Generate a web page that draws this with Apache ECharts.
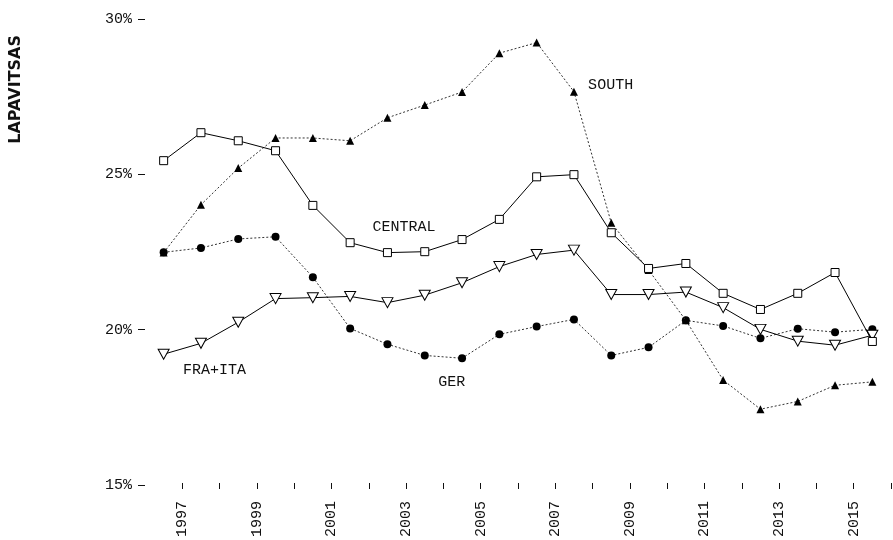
<!DOCTYPE html>
<html>
<head>
<meta charset="utf-8">
<script src="https://cdn.jsdelivr.net/npm/echarts@6/dist/echarts.min.js"></script>
<style>
  html, body { margin: 0; padding: 0; background: #fff; }
  #chart { width: 893px; height: 540px; }
</style>
</head>
<body>
<div id="chart"></div>
<script>
// Annual shares (%), 1996–2015; each value is plotted at mid-year.
const years = [1996, 1997, 1998, 1999, 2000, 2001, 2002, 2003, 2004, 2005,
               2006, 2007, 2008, 2009, 2010, 2011, 2012, 2013, 2014, 2015];

const central = [25.44, 26.34, 26.08, 25.76, 24.00, 22.80, 22.48, 22.51, 22.90, 23.55,
                 24.92, 24.99, 23.12, 21.97, 22.13, 21.17, 20.65, 21.17, 21.84, 19.62];
const south   = [22.48, 24.02, 25.20, 26.17, 26.17, 26.08, 26.82, 27.23, 27.65, 28.90,
                 29.24, 27.66, 23.44, 21.92, 20.30, 18.38, 17.44, 17.69, 18.21, 18.32];
const ger     = [22.49, 22.63, 22.92, 22.99, 21.69, 20.04, 19.53, 19.17, 19.08, 19.85,
                 20.10, 20.33, 19.17, 19.43, 20.30, 20.12, 19.72, 20.03, 19.92, 20.01];
const fraIta  = [19.21, 19.56, 20.24, 21.00, 21.03, 21.07, 20.87, 21.11, 21.51, 22.03,
                 22.42, 22.56, 21.13, 21.13, 21.21, 20.71, 20.01, 19.63, 19.50, 19.82];

// Axis ticks and labels
const xTickYears  = [1997, 1998, 1999, 2000, 2001, 2002, 2003, 2004, 2005, 2006,
                     2007, 2008, 2009, 2010, 2011, 2012, 2013, 2014, 2015, 2016];
const xLabelYears = [1997, 1999, 2001, 2003, 2005, 2007, 2009, 2011, 2013, 2015];
const yTicks = [15, 20, 25, 30];

// In-plot series labels: [name, year, value] of the label's left-middle anchor
const seriesLabels = [
  ['SOUTH',   2007.88, 27.86],
  ['CENTRAL', 2002.10, 23.30],
  ['GER',     2003.86, 18.32],
  ['FRA+ITA', 1997.02, 18.70]
];

const MONO = '"Liberation Mono", "DejaVu Sans Mono", monospace';

function pairs(vals) {
  return vals.map((v, i) => [years[i] + 0.5, v]);
}

function labelMark(name) {
  const l = seriesLabels.find(s => s[0] === name);
  return {
    silent: true,
    symbol: 'circle',
    symbolSize: 0,
    animation: false,
    label: {
      show: true,
      position: 'right',
      distance: 0,
      formatter: l[0],
      fontFamily: MONO,
      fontSize: 15,
      color: '#111'
    },
    data: [{ coord: [l[1], l[2]] }]
  };
}

const chart = echarts.init(document.getElementById('chart'), null, { renderer: 'canvas' });

chart.setOption({
  animation: false,
  backgroundColor: '#fff',
  grid: { left: 145, right: 2, top: 19, bottom: 54 },
  graphic: [{
    type: 'text',
    left: 8,
    top: 35,
    rotation: Math.PI / 2,
    style: {
      text: 'LAPAVITSAS',
      font: 'bold 16px "DejaVu Sans", sans-serif',
      fill: '#111'
    }
  }],
  xAxis: {
    type: 'value',
    min: 1996,
    max: 2016,
    offset: -2,
    splitLine: { show: false },
    axisLine: { show: false },
    axisTick: {
      show: true,
      length: 6,
      customValues: xTickYears,
      lineStyle: { color: '#111', width: 1 }
    },
    axisLabel: {
      show: true,
      rotate: 90,
      margin: 18,
      customValues: xLabelYears,
      formatter: v => String(v),
      fontFamily: MONO,
      fontSize: 15,
      color: '#111',
      padding: [0, 0, 8, 0]
    }
  },
  yAxis: {
    type: 'value',
    min: 15,
    max: 30,
    interval: 5,
    splitLine: { show: false },
    axisLine: { show: false },
    axisTick: {
      show: true,
      length: 7,
      customValues: yTicks,
      lineStyle: { color: '#111', width: 1 }
    },
    axisLabel: {
      show: true,
      margin: 13,
      customValues: yTicks,
      formatter: v => v + '%',
      fontFamily: MONO,
      fontSize: 15,
      color: '#111',
      padding: [0, 0, 7, 0]
    }
  },
  series: [
    {
      name: 'GER',
      type: 'line',
      data: pairs(ger),
      symbol: 'circle',
      symbolSize: 8,
      itemStyle: { color: '#000' },
      lineStyle: { color: '#333', width: 1, type: [2, 2] },
      z: 2,
      markPoint: labelMark('GER')
    },
    {
      name: 'SOUTH',
      type: 'line',
      data: pairs(south),
      symbol: 'triangle',
      symbolSize: 8,
      itemStyle: { color: '#000' },
      lineStyle: { color: '#333', width: 1, type: [2, 2] },
      z: 3,
      markPoint: labelMark('SOUTH')
    },
    {
      name: 'FRA+ITA',
      type: 'line',
      data: pairs(fraIta),
      symbol: 'triangle',
      symbolRotate: 180,
      symbolSize: [11, 10],
      itemStyle: { color: '#fff', borderColor: '#000', borderWidth: 1 },
      lineStyle: { color: '#000', width: 1 },
      z: 4,
      markPoint: labelMark('FRA+ITA')
    },
    {
      name: 'CENTRAL',
      type: 'line',
      data: pairs(central),
      symbol: 'rect',
      symbolSize: 8,
      itemStyle: { color: '#fff', borderColor: '#000', borderWidth: 1 },
      lineStyle: { color: '#000', width: 1 },
      z: 5,
      markPoint: labelMark('CENTRAL')
    }
  ]
});
</script>
</body>
</html>
